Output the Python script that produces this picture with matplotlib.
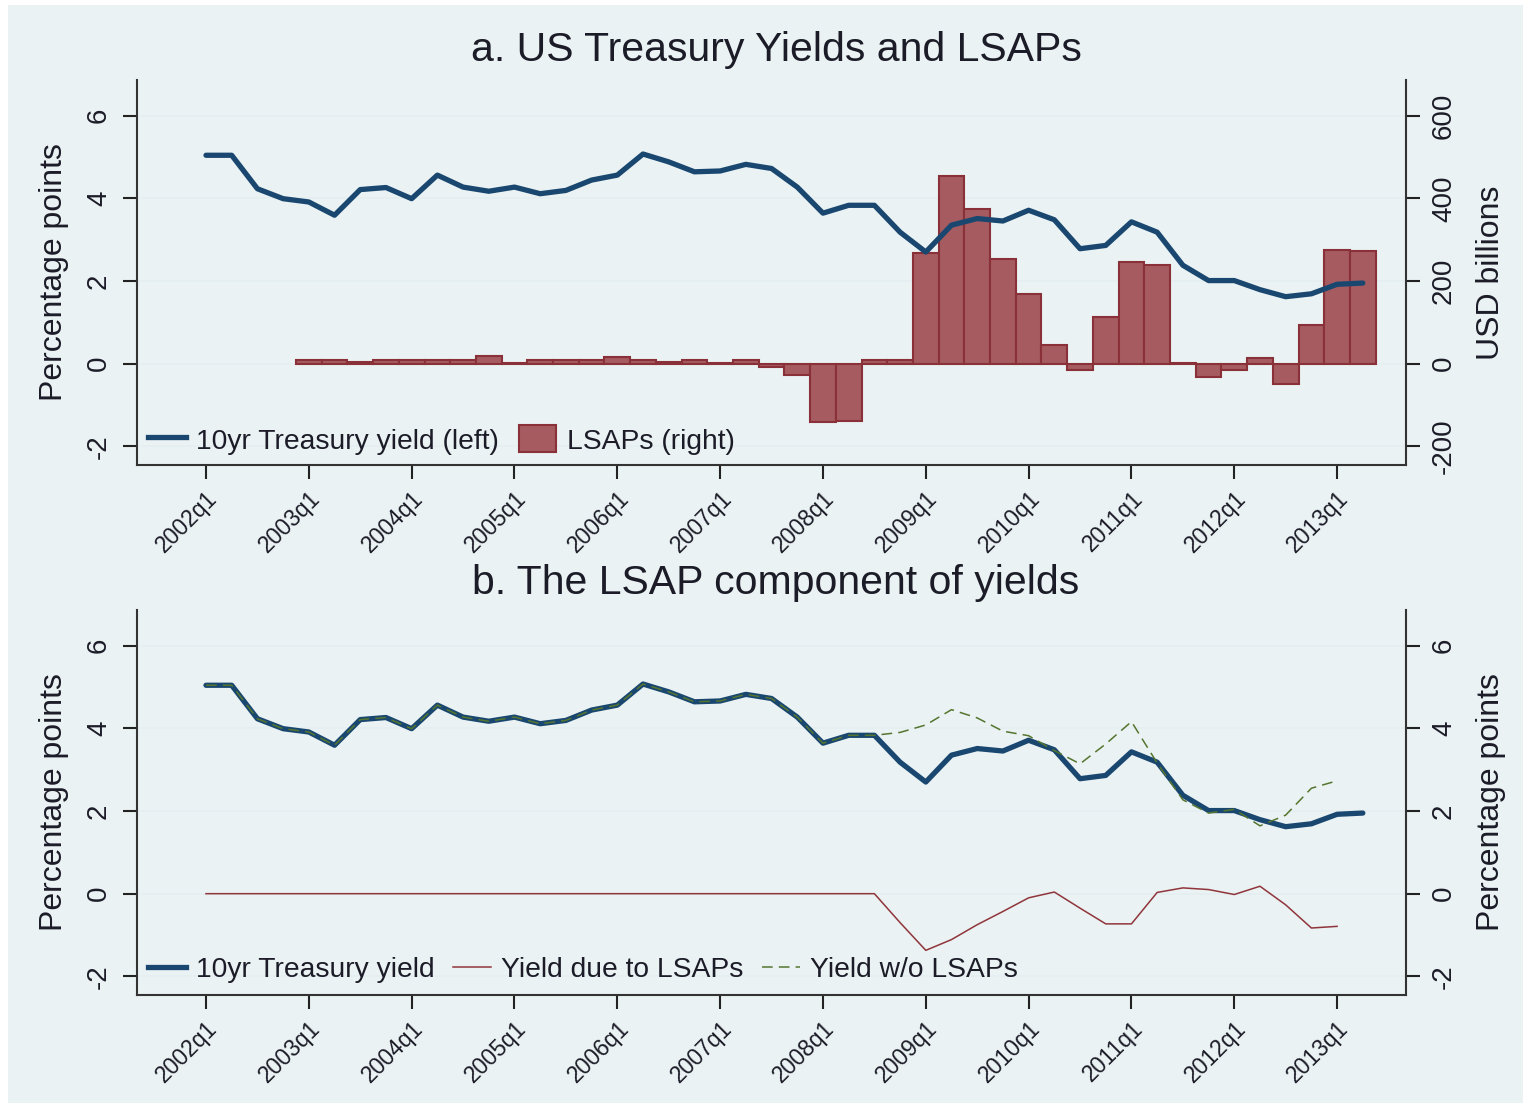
import numpy as np
import matplotlib
matplotlib.use("Agg")
import matplotlib.pyplot as plt
from matplotlib.patches import Rectangle, Patch
from matplotlib.lines import Line2D

plt.rcParams['font.family'] = ['Liberation Sans', 'DejaVu Sans']

# ---------------- data ----------------
years = list(range(2002, 2014))
quarter_labels = [f"{y}q{q}" for y in years for q in range(1, 5)][:46]   # 2002q1 .. 2013q2
tick_labels = [f"{y}q1" for y in years]

yield10 = [5.04, 5.04, 4.23, 3.99, 3.91, 3.59, 4.21, 4.26, 3.99, 4.56,
           4.27, 4.17, 4.27, 4.11, 4.19, 4.44, 4.56, 5.07, 4.88, 4.64,
           4.66, 4.82, 4.72, 4.27, 3.64, 3.83, 3.83, 3.18, 2.70, 3.35,
           3.51, 3.45, 3.71, 3.48, 2.78, 2.86, 3.43, 3.18, 2.38, 2.01,
           2.01, 1.79, 1.62, 1.69, 1.92, 1.95]

lsap = [np.nan, np.nan, np.nan, np.nan, 8, 8, 4, 8, 8, 8,
        8, 19, 1, 8, 8, 8, 15, 8, 4, 10,
        1, 10, -9, -28, -142, -138, 10, 10, 267, 453,
        375, 252, 169, 46, -15, 112, 247, 239, 1, -33,
        -15, 14, -49, 94, 276, 272]

lsap_effect = [0.0] * 27 + [-0.70, -1.37, -1.11, -0.75, -0.43, -0.10, 0.04, -0.35,
                            -0.73, -0.73, 0.03, 0.14, 0.10, -0.02, 0.18, -0.27,
                            -0.83, -0.79]

yield_no_lsap = yield10[:27] + [3.90, 4.08, 4.45, 4.25, 3.93, 3.82, 3.46, 3.14,
                                3.62, 4.16, 3.16, 2.27, 1.95, 2.04, 1.64, 1.90,
                                2.55, 2.73]

# ---------------- style ----------------
BG = '#EAF2F3'
NAVY = '#1A476F'
MAROON = '#90353B'
BARFILL = '#A55B60'
GREEN = '#55752F'
TXT = '#1c1c28'

W, H = 1531, 1108
fig = plt.figure(figsize=(W / 100, H / 100), dpi=100, facecolor='white')
fig.patches.append(Rectangle((8 / W, 5 / H), (W - 16) / W, (H - 10) / H,
                             transform=fig.transFigure, facecolor=BG,
                             edgecolor='none', zorder=-10))

x = np.arange(len(yield10))
xlim = (-2.684, 46.68)
ylim = (-2.45, 6.86)
xt = np.arange(0, 45, 4)


def style_axes(ax, ax_r):
    ax.set_xlim(*xlim)
    ax.set_xticks(xt)
    ax.set_xticklabels(tick_labels, rotation=45, ha='right', va='top',
                       rotation_mode='anchor', fontsize=16.5, color=TXT)
    for a in (ax, ax_r):
        a.spines['top'].set_visible(False)
        a.tick_params(axis='both', length=10, width=1.5, color='#222222')
    ax.spines['right'].set_visible(False)
    ax_r.spines['left'].set_visible(False)
    ax_r.spines['bottom'].set_visible(False)
    ax.spines['left'].set_linewidth(1.5)
    ax.spines['bottom'].set_linewidth(1.5)
    ax_r.spines['right'].set_linewidth(1.5)
    ax.spines['left'].set_color('#333333')
    ax.spines['bottom'].set_color('#333333')
    ax_r.spines['right'].set_color('#333333')
    ax.tick_params(axis='x', pad=6)
    ax.tick_params(axis='y', pad=8, labelsize=20, labelcolor=TXT)
    ax_r.tick_params(axis='y', pad=8, labelsize=20, labelcolor=TXT)
    for lab in ax.get_yticklabels():
        lab.set_rotation(90)
        lab.set_va('center')
    for lab in ax_r.get_yticklabels():
        lab.set_rotation(90)
        lab.set_va('center')
    ax.set_ylabel('Percentage points', fontsize=23, color=TXT, labelpad=12)
    # primary on top of twin so lines cover bars
    ax.set_zorder(ax_r.get_zorder() + 1)
    ax.patch.set_visible(False)
    ax_r.patch.set_facecolor('white')


# ---------------- panel a ----------------
ax1 = fig.add_axes([137 / W, 1 - 465 / H, 1269 / W, 385 / H])
ax1r = ax1.twinx()
ax1.set_ylim(*ylim)
ax1r.set_ylim(ylim[0] * 100, ylim[1] * 100)
ax1.set_yticks([-2, 0, 2, 4, 6])
ax1.set_yticklabels(['-2', '0', '2', '4', '6'])
ax1r.set_yticks([-200, 0, 200, 400, 600])
ax1r.set_yticklabels(['-200', '0', '200', '400', '600'])
ax1r.set_axisbelow(True)
ax1r.grid(axis='y', color='#E4EEF1', linewidth=1.2)

lsap_arr = np.array(lsap, dtype=float)
mask = ~np.isnan(lsap_arr)
ax1r.bar(x[mask], lsap_arr[mask], width=1.0, color=BARFILL,
         edgecolor='#8A3038', linewidth=1.5, zorder=2)
ax1.plot(x, yield10, color=NAVY, linewidth=3.8, solid_capstyle='round',
         solid_joinstyle='round', zorder=3)
style_axes(ax1, ax1r)
ax1r.set_ylabel('USD billions', fontsize=23, color=TXT, labelpad=14)

h1 = [Line2D([], [], color=NAVY, linewidth=3.8),
      Patch(facecolor=BARFILL, edgecolor='#8A3038', linewidth=1.5)]
ax1.legend(h1, ['10yr Treasury yield (left)', 'LSAPs (right)'],
           loc='center left', bbox_to_anchor=(0.0087, 0.065), ncol=2,
           frameon=False, fontsize=20.3, handlelength=1.33, handleheight=1.1,
           handletextpad=0.38, columnspacing=0.7, borderpad=0,
           borderaxespad=0, labelcolor=TXT)

fig.text(776 / W, 1 - 50 / H, 'a. US Treasury Yields and LSAPs',
         ha='center', va='center', fontsize=29.5, color=TXT)

# ---------------- panel b ----------------
ax2 = fig.add_axes([137 / W, 1 - 995 / H, 1269 / W, 385 / H])
ax2r = ax2.twinx()
ax2.set_ylim(*ylim)
ax2r.set_ylim(*ylim)
ax2.set_yticks([-2, 0, 2, 4, 6])
ax2.set_yticklabels(['-2', '0', '2', '4', '6'])
ax2r.set_yticks([-2, 0, 2, 4, 6])
ax2r.set_yticklabels(['-2', '0', '2', '4', '6'])
ax2r.set_axisbelow(True)
ax2r.grid(axis='y', color='#E4EEF1', linewidth=1.2)

n2 = len(lsap_effect)
ax2.plot(x, yield10, color=NAVY, linewidth=3.8, solid_capstyle='round',
         solid_joinstyle='round', zorder=3)
ax2.plot(x[:n2], lsap_effect, color=MAROON, linewidth=1.1, zorder=4)
ax2.plot(x[:n2], yield_no_lsap, color=GREEN, linewidth=1.1,
         linestyle=(0, (7, 4)), zorder=5)
style_axes(ax2, ax2r)
ax2r.set_ylabel('Percentage points', fontsize=23, color=TXT, labelpad=14)

h2 = [Line2D([], [], color=NAVY, linewidth=3.8),
      Line2D([], [], color=MAROON, linewidth=1.1),
      Line2D([], [], color=GREEN, linewidth=1.1, linestyle=(0, (7, 4)))]
ax2.legend(h2, ['10yr Treasury yield', 'Yield due to LSAPs', 'Yield w/o LSAPs'],
           loc='center left', bbox_to_anchor=(0.0087, 0.065), ncol=3,
           frameon=False, fontsize=20.3, handlelength=1.33,
           handletextpad=0.38, columnspacing=0.65, borderpad=0,
           borderaxespad=0, labelcolor=TXT)

fig.text(776 / W, 1 - 583 / H, 'b. The LSAP component of yields',
         ha='center', va='center', fontsize=29.5, color=TXT)

fig.savefig('out.png', dpi=100, facecolor=fig.get_facecolor())
